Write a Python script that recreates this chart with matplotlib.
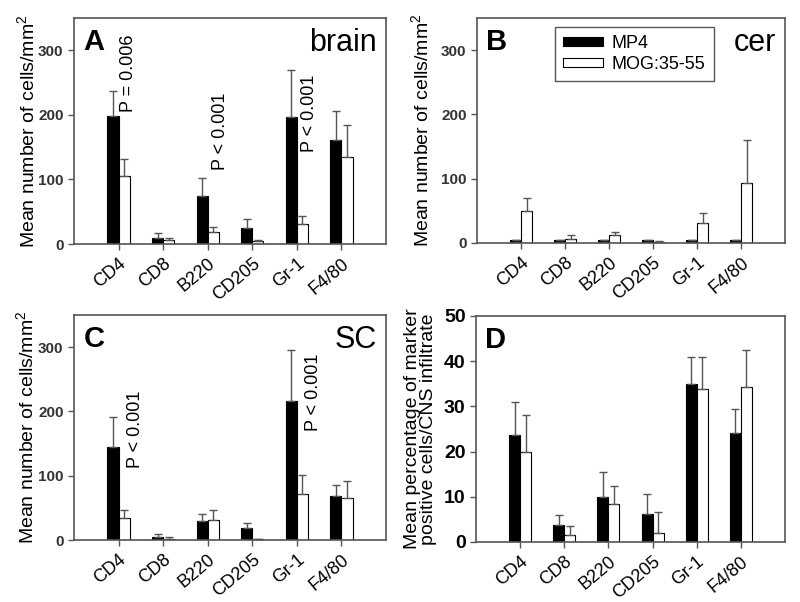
import matplotlib
matplotlib.use("Agg")
import matplotlib.pyplot as plt
import numpy as np

plt.rcParams['font.family'] = ['Liberation Sans', 'DejaVu Sans']
plt.rcParams['mathtext.default'] = 'regular'

markers = ["CD4", "CD8", "B220", "CD205", "Gr-1", "F4/80"]

# panel A - brain
brain_mp4 = [198, 9, 74, 25, 197, 161]
brain_mp4_err = [39, 8, 28, 14, 72, 45]
brain_mog = [106, 6, 18, 4, 31, 135]
brain_mog_err = [26, 4, 9, 2, 13, 49]

# panel B - cer
cer_mp4 = [5, 5, 5, 5, 5, 5]
cer_mp4_err = [0, 0, 0, 0, 0, 0]
cer_mog = [50, 6, 12, 2, 31, 93]
cer_mog_err = [20, 7, 5, 1, 16, 68]

# panel C - SC
sc_mp4 = [144, 5, 29, 18, 216, 68]
sc_mp4_err = [47, 5, 11, 8, 80, 18]
sc_mog = [34, 2, 31, 1, 71, 65]
sc_mog_err = [13, 3, 16, 0, 30, 27]

# panel D - percentage
pct_mp4 = [23.7, 3.75, 9.9, 6.3, 34.9, 24.1]
pct_mp4_err = [7.2, 2.3, 5.5, 4.3, 6.1, 5.4]
pct_mog = [19.9, 1.5, 8.3, 2.0, 33.8, 34.2]
pct_mog_err = [8.2, 2.0, 4.0, 4.6, 7.2, 8.3]

panels = [
    ("A", "brain", brain_mp4, brain_mp4_err, brain_mog, brain_mog_err),
    ("B", "cer", cer_mp4, cer_mp4_err, cer_mog, cer_mog_err),
    ("C", "SC", sc_mp4, sc_mp4_err, sc_mog, sc_mog_err),
    ("D", "", pct_mp4, pct_mp4_err, pct_mog, pct_mog_err),
]

# p-value annotations: (panel, x, y bottom, text)
pvals = [
    ("A", 1.22, 205, "P = 0.006"),
    ("A", 3.29, 115, "P < 0.001"),
    ("A", 5.28, 143, "P < 0.001"),
    ("C", 1.38, 112, "P < 0.001"),
    ("C", 5.37, 169, "P < 0.001"),
]

W, H = 800, 602
boxes = {
    "A": (74, 18, 386, 244),
    "B": (477, 18, 785, 243),
    "C": (74, 315, 386, 540),
    "D": (476, 316, 785, 542),
}
# x of the y-label's right edge, axes fraction
label_x = {"A": -0.115, "B": -0.146, "C": -0.118, "D": -0.126}

fig = plt.figure(figsize=(8, 6.02), dpi=100)
x = np.arange(1, len(markers) + 1)
w = 0.25
spine_col = "#555555"
err_col = "#555555"

for letter, region, mp4, mp4e, mog, moge in panels:
    l, t, r, b = boxes[letter]
    ax = fig.add_axes([l / W, (H - b) / H, (r - l) / W, (b - t) / H])
    ax.bar(x - w / 2, mp4, w, color="black", edgecolor="black", linewidth=0.8,
           yerr=[np.zeros(len(mp4)), mp4e], ecolor=err_col,
           error_kw=dict(capsize=3, elinewidth=1, capthick=1), label="MP4")
    ax.bar(x + w / 2, mog, w, color="white", edgecolor="black", linewidth=0.8,
           yerr=[np.zeros(len(mog)), moge], ecolor=err_col,
           error_kw=dict(capsize=3, elinewidth=1, capthick=1), label="MOG:35-55")
    ax.set_xlim(0, 7)
    ax.set_xticks(x)
    ax.set_xticklabels(markers, rotation=40, ha="right", rotation_mode="anchor",
                       fontsize=13)
    for s in ax.spines.values():
        s.set_color(spine_col)
        s.set_linewidth(1.2)
    ax.tick_params(color=spine_col, length=4, width=1)
    ax.tick_params(axis="x", pad=4)
    if letter == "D":
        ax.set_ylim(0, 50)
        ax.set_yticks([0, 10, 20, 30, 40, 50])
        ax.tick_params(axis="y", labelsize=14)
        for tl in ax.get_yticklabels():
            tl.set_fontweight("bold")
        ax.set_ylabel("Mean percentage of marker\npositive cells/CNS infiltrate",
                      fontsize=14, linespacing=0.95)
    else:
        ax.set_ylim(0, 350)
        ax.set_yticks([0, 100, 200, 300])
        ax.tick_params(axis="y", labelsize=11, labelcolor="#333333")
        for tl in ax.get_yticklabels():
            tl.set_fontweight("bold")
        ax.set_ylabel("Mean number of cells/mm$^2$", fontsize=14)
    ax.yaxis.set_label_coords(label_x[letter], 0.5)
    ax.text(0.03, 0.955, letter, transform=ax.transAxes, fontsize=21,
            fontweight="bold", va="top", ha="left")
    if region:
        ax.text(0.97, 0.955, region, transform=ax.transAxes, fontsize=22,
                va="top", ha="right")
    for pl, px, py, ptxt in pvals:
        if pl == letter:
            ax.text(px, py, ptxt, rotation=90, ha="center", va="bottom", fontsize=13)
    if letter == "B":
        leg = ax.legend(loc="upper left", bbox_to_anchor=(0.253, 0.96), fontsize=13,
                        handlelength=2.2, handleheight=0.35, handletextpad=0.5,
                        fancybox=False, edgecolor=spine_col, framealpha=1,
                        borderpad=0.45, borderaxespad=0, labelspacing=0.2)
        leg.get_frame().set_linewidth(1)

fig.savefig("out.png", dpi=100)
